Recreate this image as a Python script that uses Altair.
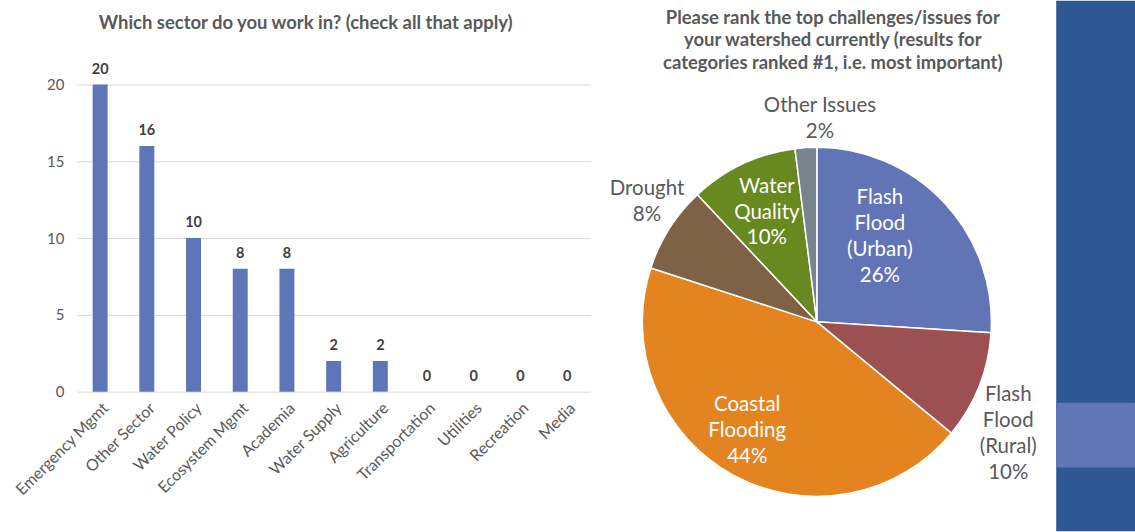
import altair as alt
import pandas as pd

# ---- data ----
sectors = ["Emergency Mgmt", "Other Sector", "Water Policy", "Ecosystem Mgmt", "Academia",
           "Water Supply", "Agriculture", "Transportation", "Utilities", "Recreation", "Media"]
counts = [20, 16, 10, 8, 8, 2, 2, 0, 0, 0, 0]
y_ticks = [0, 5, 10, 15, 20]

issues = ["Flash Flood (Urban)", "Flash Flood (Rural)", "Coastal Flooding", "Drought",
          "Water Quality", "Other Issues"]
shares = [26, 10, 44, 8, 10, 2]
issue_lines = ["Flash\nFlood\n(Urban)", "Flash\nFlood\n(Rural)", "Coastal\nFlooding", "Drought",
               "Water\nQuality", "Other Issues"]
label_inside = [True, False, True, False, True, False]
pie_colors = ["#6175B6", "#9C5052", "#E48421", "#7F6245", "#67891F", "#77848B"]

bar_title = "Which sector do you work in? (check all that apply)"
pie_title = ["Please rank the top challenges/issues for",
             "your watershed currently (results for",
             "categories ranked #1, i.e. most important)"]

FONT = "Lato"
GRAY = "#595959"
DARK = "#404040"

# ---- bar chart ----
bar_df = pd.DataFrame({"sector": sectors, "count": counts})
bx = alt.X("sector:N", sort=sectors, title=None,
           scale=alt.Scale(paddingInner=0, paddingOuter=0),
           axis=alt.Axis(labelAngle=-45, labelFont=FONT, labelFontSize=16, labelColor=GRAY,
                         ticks=False, domain=False, grid=False, labelPadding=8))
by = alt.Y("count:Q", title=None, scale=alt.Scale(domain=[0, 20], nice=False),
           axis=alt.Axis(values=y_ticks, grid=True, gridColor="#D9D9D9", gridWidth=1,
                         domain=False, ticks=False, tickSize=0, labelPadding=13,
                         labelFont=FONT, labelFontSize=15, labelColor=GRAY))
bbase = alt.Chart(bar_df).encode(x=bx, y=by)
bars = bbase.mark_bar(color="#5E75B7", size=15)
bar_text = bbase.mark_text(baseline="bottom", dy=-8, font=FONT, fontSize=14.5,
                           fontWeight="bold", color=DARK).encode(text="count:Q")
bar_chart = alt.layer(bars, bar_text).properties(
    width=515, height=308,
    title=alt.TitleParams(text=bar_title, font=FONT, fontSize=18.5, fontWeight="bold",
                          color=GRAY, offset=29, anchor="middle", dx=-28))

# ---- pie chart ----
pie_df = pd.DataFrame({"issue": issues, "share": shares, "order": list(range(len(issues)))})
pie_df["label"] = [f"{l}\n{s}%" for l, s in zip(issue_lines, shares)]

PIE_R = 175
CX_Y = 238          # pie centre, measured from the top of the pie view
LH = 26             # label line height

# label placement: (radius from centre, dx, dy) per issue
label_place = {
    "Flash Flood (Urban)": (110, -17, -10),
    "Flash Flood (Rural)": (215, -8, 33),
    "Coastal Flooding": (120, -12, 4),
    "Drought": (210, 7, -8),
    "Water Quality": (120, 1, -1),
    "Other Issues": (205, 16, 1),
}

pbase = alt.Chart(pie_df).encode(theta=alt.Theta("share:Q", stack=True),
                                 order=alt.Order("order:Q"),
                                 y=alt.value(CX_Y))
arcs = pbase.mark_arc(radius=PIE_R, stroke="white", strokeWidth=1.5).encode(
    color=alt.Color("issue:N", scale=alt.Scale(domain=issues, range=pie_colors), legend=None))

layers = [arcs]
for name, lines, inside in zip(issues, issue_lines, label_inside):
    r, dx, dy = label_place[name]
    n = lines.count("\n") + 2
    txt = pbase.transform_calculate(
        t=f"datum.issue == '{name}' ? datum.label : ''"
    ).mark_text(radius=r, dx=dx, dy=dy - (n - 1) * LH / 2, font=FONT, fontSize=20.5,
                lineHeight=LH, color="white" if inside else GRAY,
                lineBreak="\n").encode(text="t:N")
    layers.append(txt)

pie_chart = alt.layer(*layers).properties(
    width=440, height=448,
    title=alt.TitleParams(text=pie_title, font=FONT, fontSize=18.5, fontWeight="bold",
                          color=GRAY, lineHeight=23, offset=9, anchor="middle", dx=16))

# ---- decorative side panel ----
panel_df = pd.DataFrame({"k": [0]})
panel_bg = alt.Chart(panel_df).mark_rect(color="#2E5894").encode(
    x=alt.value(0), x2=alt.value(79), y=alt.value(-84), y2=alt.value(448))
panel_band = alt.Chart(panel_df).mark_rect(color="#6176B5").encode(
    x=alt.value(0), x2=alt.value(79), y=alt.value(319), y2=alt.value(384))
panel = alt.layer(panel_bg, panel_band).properties(width=79, height=448)

chart = alt.hconcat(
    alt.hconcat(bar_chart, pie_chart, spacing=7),
    panel, spacing=19
).configure_view(stroke=None).properties(
    padding={"left": 12, "top": 0, "right": 0, "bottom": 0}, background="white")

chart.save("out.html", embed_options={"renderer": "svg", "actions": False})
